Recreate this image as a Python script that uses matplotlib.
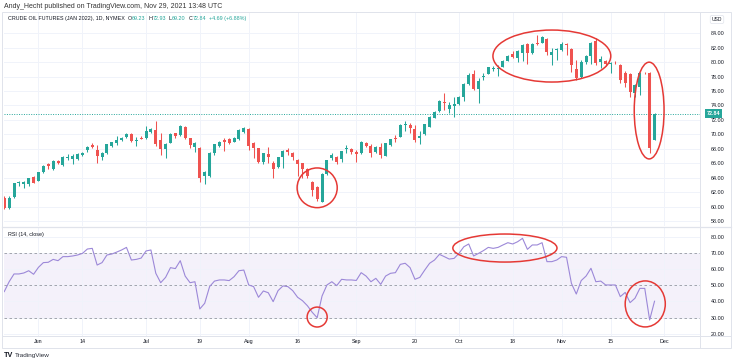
import matplotlib
matplotlib.use("Agg")
import matplotlib.pyplot as plt
from matplotlib.patches import Ellipse
import numpy as np
import pandas as pd

# ---------------- data ----------------
holidays = ["2021-05-31", "2021-07-05", "2021-09-06", "2021-11-25"]
bar_dates = pd.bdate_range("2021-05-20", "2021-11-29", freq="C", holidays=holidays)

opens = [61.15, 59.76, 61.28, 63.22, 63.13, 63.13, 64.10,
         63.59, 64.80, 65.95, 65.25, 66.36, 65.76, 66.78, 66.60, 66.64, 67.15,
         67.80, 68.58, 67.80, 66.92, 67.38, 68.39, 68.76, 69.20, 69.60, 70.00,
         69.05, 69.55, 69.45, 70.30, 70.60, 69.20, 68.00, 68.85, 70.15, 69.90,
         71.00, 69.45, 68.30, 68.16, 64.25, 64.25, 67.37, 68.45, 69.22, 69.30,
         69.00, 69.35, 70.38, 70.70, 68.76, 68.07, 66.20, 67.28, 66.08, 65.50,
         66.90, 67.84, 67.46, 66.45, 66.08, 65.15, 63.45, 62.76, 60.68, 64.50,
         66.70, 66.90, 66.54, 67.93, 67.97, 67.50, 67.38, 68.76, 68.39, 67.51,
         68.30, 67.05, 68.53, 69.45, 69.68, 71.30, 71.30, 70.75, 69.55, 70.00,
         71.07, 72.30, 73.24, 74.44, 73.50, 73.93, 74.20, 75.22, 76.93, 78.32,
         76.29, 77.90, 78.37, 79.10, 79.00, 79.38, 80.21, 81.13, 80.53, 81.23,
         82.52, 81.23, 82.60, 82.70, 83.17, 81.00, 81.70, 81.69, 82.52, 81.78,
         79.00, 78.00, 79.98, 80.86, 82.98, 80.07, 80.17, 79.70, 79.94, 79.61,
         78.50, 78.30, 75.69, 76.52, 78.55, 78.46, 69.23]

highs = [61.40, 61.46, 63.30, 63.55, 63.60, 64.00, 64.20,
         64.80, 65.75, 66.10, 66.40, 66.50, 67.00, 67.35, 67.35, 67.40, 67.60,
         68.45, 68.85, 68.49, 67.60, 68.70, 69.00, 69.78, 69.70, 70.15, 70.15,
         69.60, 69.78, 71.15, 70.85, 71.85, 70.15, 68.76, 70.15, 70.20, 71.30,
         71.20, 69.55, 69.00, 68.30, 64.93, 67.50, 68.70, 69.08, 69.45, 69.45,
         69.60, 70.70, 71.00, 70.83, 68.90, 68.15, 67.45, 68.30, 66.30, 66.90,
         67.85, 68.10, 67.50, 66.55, 66.10, 65.30, 63.50, 62.90, 64.60, 66.50,
         67.40, 67.00, 67.70, 68.50, 68.10, 67.83, 69.10, 68.90, 68.60, 68.40,
         68.76, 68.80, 69.40, 69.90, 71.40, 71.85, 71.55, 71.30, 70.40, 71.50,
         72.50, 73.20, 74.70, 75.70, 74.50, 75.20, 75.30, 77.15, 78.55, 78.90,
         77.80, 78.50, 79.40, 79.50, 79.60, 80.30, 81.00, 81.50, 81.70, 82.50,
         82.70, 82.60, 83.77, 83.60, 83.30, 81.90, 81.90, 82.75, 82.60, 81.90,
         80.30, 80.30, 81.00, 82.85, 83.30, 80.80, 80.30, 80.07, 80.20, 79.70,
         78.75, 78.50, 77.00, 78.70, 78.70, 78.70, 72.93]

lows = [59.70, 59.67, 61.20, 62.85, 62.60, 62.85, 63.20,
        63.55, 64.70, 65.15, 65.10, 65.85, 65.60, 66.45, 65.85, 66.50, 67.05,
        67.52, 68.12, 66.10, 66.45, 67.30, 68.30, 68.58, 69.10, 69.45, 68.98,
        68.45, 69.35, 69.30, 70.15, 68.40, 67.15, 66.78, 68.76, 69.45, 69.80,
        69.30, 68.07, 67.60, 63.45, 63.10, 64.15, 67.20, 68.30, 67.70, 68.65,
        68.90, 69.20, 70.20, 67.90, 66.70, 66.00, 65.85, 66.00, 64.00, 65.30,
        65.40, 67.10, 66.50, 64.30, 63.90, 63.90, 61.50, 60.77, 60.60, 64.40,
        66.45, 65.85, 66.22, 67.37, 67.30, 66.22, 67.30, 68.30, 66.90, 67.40,
        66.70, 66.95, 68.45, 69.00, 69.60, 70.40, 70.15, 69.00, 68.60, 69.90,
        71.00, 72.20, 73.10, 73.40, 72.90, 72.45, 74.10, 74.60, 76.85, 76.15,
        74.30, 77.60, 78.30, 78.80, 78.10, 79.30, 80.10, 80.60, 80.00, 80.10,
        79.80, 81.10, 82.40, 82.60, 81.00, 79.60, 80.30, 81.55, 81.00, 78.70,
        77.60, 77.80, 79.80, 79.80, 79.60, 79.20, 79.50, 78.46, 79.70, 77.07,
        76.60, 75.20, 75.20, 75.50, 78.30, 67.47, 69.20]

closes = [59.85, 61.15, 63.22, 63.36, 63.45, 63.90, 63.27,
          64.75, 65.67, 65.67, 66.32, 66.10, 66.92, 66.92, 67.06, 67.24, 67.47,
          68.26, 68.30, 67.06, 67.47, 68.62, 68.90, 69.22, 69.55, 70.00, 69.10,
          69.27, 69.40, 70.50, 70.75, 68.70, 67.93, 68.60, 70.00, 69.80, 71.16,
          69.45, 68.53, 68.75, 64.00, 64.85, 67.37, 68.62, 68.90, 68.99, 68.80,
          69.45, 70.60, 70.84, 68.40, 68.07, 66.22, 67.37, 66.90, 65.20, 66.80,
          67.74, 67.60, 66.90, 65.85, 65.15, 64.23, 62.30, 61.05, 64.50, 66.45,
          67.20, 66.22, 67.70, 68.06, 67.51, 67.23, 68.99, 68.44, 67.47, 68.30,
          67.15, 68.76, 69.30, 69.30, 71.30, 71.40, 70.84, 69.22, 69.78, 71.39,
          72.45, 73.15, 74.62, 74.30, 74.07, 74.20, 75.22, 76.98, 78.22, 76.29,
          77.40, 78.08, 79.29, 79.24, 79.20, 80.17, 80.90, 80.77, 81.60, 82.38,
          81.23, 82.52, 82.50, 83.45, 81.46, 81.46, 81.78, 82.52, 82.38, 79.61,
          77.77, 80.07, 80.86, 82.60, 79.84, 80.40, 79.70, 79.84, 79.84, 77.54,
          77.10, 75.92, 76.84, 78.55, 78.46, 68.07, 72.84]

rsi = [46.1, 52.2, 57.0, 57.0, 57.6, 59.0, 56.8,
       61.1, 64.0, 64.2, 66.0, 65.2, 67.7, 67.7, 68.1, 68.7, 69.7,
       72.4, 72.8, 62.5, 64.0, 68.7, 69.3, 70.5, 71.8, 73.4, 65.6,
       66.0, 66.8, 71.2, 71.8, 57.4, 51.6, 54.9, 60.9, 60.3, 65.2,
       55.7, 51.6, 52.2, 35.4, 38.9, 49.2, 52.6, 53.3, 53.3, 52.9,
       55.3, 59.0, 59.4, 50.2, 49.2, 42.6, 46.5, 45.4, 39.9, 46.7,
       49.6, 49.2, 46.7, 42.6, 40.5, 37.4, 33.3, 30.0, 43.4, 50.2,
       52.2, 49.8, 53.7, 53.3, 53.3, 53.0, 57.8, 55.7, 52.2, 54.3,
       50.6, 55.7, 57.4, 57.8, 62.9, 63.6, 60.9, 53.7, 54.9, 59.4,
       63.6, 65.6, 69.1, 67.7, 66.2, 66.6, 69.7, 73.8, 75.5, 68.1,
       69.7, 71.4, 73.4, 72.8, 73.4, 74.9, 76.3, 75.5, 76.9, 79.0,
       72.2, 74.9, 74.9, 76.3, 64.6, 64.6, 65.6, 67.7, 67.3, 51.2,
       44.6, 52.9, 55.7, 60.5, 52.2, 52.6, 50.2, 50.2, 50.2, 43.0,
       45.6, 39.3, 42.0, 48.1, 48.1, 28.6, 40.16]

tick_dates = ["2021-06-01", "2021-06-14", "2021-07-01", "2021-07-19", "2021-08-02",
              "2021-08-16", "2021-09-01", "2021-09-20", "2021-10-01", "2021-10-18",
              "2021-11-01", "2021-11-15", "2021-12-01"]
tick_labels = ["Jun", "14", "Jul", "19", "Aug", "16", "Sep", "20", "Oct", "18",
               "Nov", "15", "Dec"]
price_ticks = [58, 60, 62, 64, 66, 68, 70, 72, 74, 76, 78, 80, 82, 84]
rsi_ticks = [20, 30, 40, 50, 60, 70, 80]

title_text = "Andy_Hecht published on TradingView.com, Nov 29, 2021 13:48 UTC"
symbol_text = "CRUDE OIL FUTURES (JAN 2022), 1D, NYMEX"
ohlc_labels = ["O", "H", "L", "C"]
ohlc_values = ["69.23", "72.93", "69.20", "72.84"]
change_text = "+4.69 (+6.88%)"
rsi_title = "RSI (14, close)"

# annotation ellipses: (x position in bars, y value, width in bars, height in value units)
main_ellipses = [(64.0, 62.6, 8.2, 5.5), (112.0, 80.85, 24.1, 7.2), (131.9, 73.3, 6.1, 13.4)]
rsi_ellipses = [(64.0, 30.4, 4.1, 12.3), (102.4, 73.0, 21.3, 17.3), (131.1, 38.5, 8.2, 28.4)]

# ---------------- style ----------------
UP = "#26a69a"
DOWN = "#ef5350"
GRID = "#f0f3fa"
BORDER = "#e0e3eb"
TXT = "#131722"
RSI_C = "#9c88d8"
RED = "#e53935"
FONT = "Liberation Sans"
plt.rcParams["font.family"] = [FONT, "DejaVu Sans"]

W, H = 734, 364
fig = plt.figure(figsize=(W / 100, H / 100), dpi=100)
fig.patch.set_facecolor("white")


def px_axes(l, t, r, b):
    return fig.add_axes([l / W, 1 - b / H, (r - l) / W, (b - t) / H])


def fx(px):
    return px / W


def fy(py):
    return 1 - py / H


ax = px_axes(4, 12, 700, 226)
axr = px_axes(4, 228, 700, 336)

n = len(opens)
x = np.arange(n)
o = np.array(opens); h = np.array(highs); l = np.array(lows); c = np.array(closes)
cols = np.where(c >= o, UP, DOWN)

ext = pd.bdate_range("2021-05-20", "2021-12-31", freq="C", holidays=holidays)
tick_pos = [ext.get_loc(pd.Timestamp(d)) for d in tick_dates]

xlim = (-0.05, 142.3)

# ---- main price pane ----
ax.vlines(x, l, h, colors=cols, linewidth=0.75, zorder=3)
ax.bar(x, np.maximum(np.abs(c - o), 0.09), bottom=np.minimum(o, c), width=0.62,
       color=cols, linewidth=0, zorder=4)
ax.set_xlim(*xlim)
ax.set_ylim(57.31, 86.95)
ax.set_yticks(price_ticks)
ax.set_yticklabels([f"{v:.2f}" for v in price_ticks])
ax.yaxis.tick_right()
ax.tick_params(axis="y", length=0, labelsize=3.9, pad=7.5, colors=TXT)
ax.set_xticks(tick_pos)
ax.tick_params(axis="x", length=0, labelbottom=False)
ax.grid(True, color=GRID, linewidth=0.7, zorder=0)
ax.axhline(closes[-1], color=UP, linewidth=0.7, linestyle=(0, (1, 1.5)), zorder=2)
for s in ax.spines.values():
    s.set_visible(False)

for (cx, cy, w, hh) in main_ellipses:
    ax.add_patch(Ellipse((cx, cy), w, hh, fill=False, edgecolor=RED, linewidth=1.1,
                         zorder=6, clip_on=False))

ax.annotate(f"{closes[-1]:.2f}", xy=(1, closes[-1]), xycoords=("axes fraction", "data"),
            xytext=(7, 0), textcoords="offset pixels", ha="left", va="center",
            fontsize=3.9, color="white", fontweight="bold",
            bbox=dict(boxstyle="square,pad=0.35", fc=UP, ec="none"),
            annotation_clip=False, zorder=10)

# ---- RSI pane ----
axr.axhspan(30, 70, color="#7e57c2", alpha=0.08, linewidth=0, zorder=1)
for lv in (70, 50, 30):
    axr.axhline(lv, color="#9598a1", linewidth=0.6, linestyle=(0, (3, 3)), zorder=2)
axr.plot(x, rsi, color=RSI_C, linewidth=0.8, zorder=4)
axr.set_xlim(*xlim)
axr.set_ylim(18.70, 85.37)
axr.set_yticks(rsi_ticks)
axr.set_yticklabels([f"{v:.2f}" for v in rsi_ticks])
axr.yaxis.tick_right()
axr.tick_params(axis="y", length=0, labelsize=3.9, pad=7.5, colors=TXT)
axr.set_xticks(tick_pos)
axr.set_xticklabels(tick_labels)
axr.tick_params(axis="x", length=0, labelsize=3.9, pad=2.5, colors=TXT)
axr.grid(True, color=GRID, linewidth=0.7, zorder=0)
for s in axr.spines.values():
    s.set_visible(False)

for (cx, cy, w, hh) in rsi_ellipses:
    axr.add_patch(Ellipse((cx, cy), w, hh, fill=False, edgecolor=RED, linewidth=1.1,
                          zorder=6, clip_on=False))

# ---- frame / separators ----
fig.add_artist(plt.Line2D([fx(700), fx(700)], [fy(12), fy(348)], color=BORDER, linewidth=0.7))
fig.add_artist(plt.Line2D([fx(2), fx(731)], [fy(227), fy(227)], color=BORDER, linewidth=0.9))
fig.add_artist(plt.Line2D([fx(2), fx(731)], [fy(336), fy(336)], color=BORDER, linewidth=0.7))
fig.add_artist(plt.Rectangle((fx(2), fy(348)), fx(729), (348 - 12) / H, fill=False,
                             edgecolor=BORDER, linewidth=0.7))

# ---- texts ----
fig.text(fx(4), fy(6), title_text, fontsize=5.0, color="#333333", va="center", ha="left")

t = fig.text(fx(8), fy(18.3), symbol_text, fontsize=3.9, color=TXT, va="center", ha="left")
prev = t
for lab, val in zip(ohlc_labels, ohlc_values):
    a = ax.annotate("  " + lab, xy=(1, 0), xycoords=prev, va="bottom", ha="left",
                    fontsize=3.9, color=TXT, annotation_clip=False)
    b = ax.annotate(val, xy=(1, 0), xycoords=a, va="bottom", ha="left",
                    fontsize=3.9, color=UP, annotation_clip=False)
    prev = b
ax.annotate("  " + change_text, xy=(1, 0), xycoords=prev, va="bottom", ha="left",
            fontsize=3.9, color=UP, annotation_clip=False)

fig.text(fx(717), fy(19.5), "USD", fontsize=3.6, color=TXT, va="center", ha="center",
         bbox=dict(boxstyle="round,pad=0.3", fc="white", ec=BORDER, lw=0.5))

rt = fig.text(fx(8), fy(234.3), rsi_title, fontsize=3.9, color=TXT, va="center", ha="left")
ax.annotate("  " + f"{rsi[-1]:.2f}", xy=(1, 0), xycoords=rt, va="bottom", ha="left",
            fontsize=3.9, color="#7e57c2", annotation_clip=False)

fig.text(fx(4), fy(355.5), "TV", fontsize=5.2, color=TXT, fontweight="bold",
         va="center", ha="left")
fig.text(fx(14.5), fy(355.5), "TradingView", fontsize=4.6, color="#2a2e39",
         va="center", ha="left")

fig.savefig("out.png", dpi=100, facecolor="white")
